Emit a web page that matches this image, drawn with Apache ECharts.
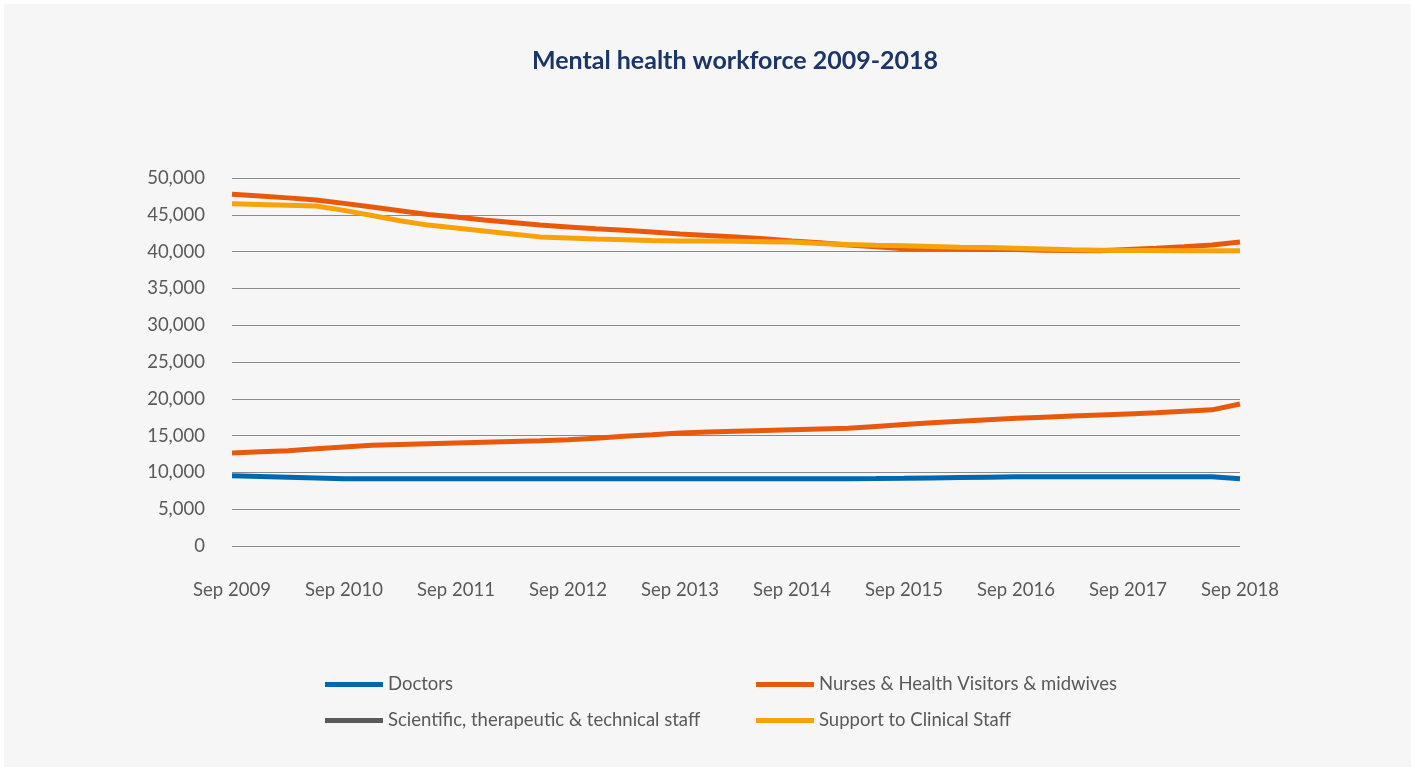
<!DOCTYPE html>
<html>
<head>
<meta charset="utf-8">
<script src="https://cdn.jsdelivr.net/npm/echarts@6/dist/echarts.min.js"></script>
<style>
  html, body { margin: 0; padding: 0; background: #ffffff; }
  #panel { position: absolute; left: 4px; top: 4px; width: 1407px; height: 763px; background: #f6f6f6; }
  #chart { position: absolute; left: 0; top: 0; width: 1415px; height: 771px; }
</style>
</head>
<body>
<div id="panel"></div>
<div id="chart"></div>
<script>
// Quarterly categories (labels shown every 4th: September of each year)
const quarters = [
  "Sep 2009","Dec 2009","Mar 2010","Jun 2010",
  "Sep 2010","Dec 2010","Mar 2011","Jun 2011",
  "Sep 2011","Dec 2011","Mar 2012","Jun 2012",
  "Sep 2012","Dec 2012","Mar 2013","Jun 2013",
  "Sep 2013","Dec 2013","Mar 2014","Jun 2014",
  "Sep 2014","Dec 2014","Mar 2015","Jun 2015",
  "Sep 2015","Dec 2015","Mar 2016","Jun 2016",
  "Sep 2016","Dec 2016","Mar 2017","Jun 2017",
  "Sep 2017","Dec 2017","Mar 2018","Jun 2018",
  "Sep 2018"
];

const seriesNames = [
  "Doctors",
  "Nurses & Health Visitors & midwives",
  "Scientific, therapeutic & technical staff",
  "Support to Clinical Staff"
];

const doctors = [
  9550, 9450, 9350, 9250,
  9150, 9150, 9150, 9150,
  9150, 9150, 9150, 9150,
  9150, 9150, 9150, 9150,
  9150, 9150, 9150, 9150,
  9150, 9150, 9150, 9170,
  9200, 9250, 9300, 9350,
  9400, 9400, 9400, 9400,
  9400, 9400, 9400, 9400,
  9150
];

const nurses = [
  47800, 47550, 47300, 47000,
  46550, 46050, 45550, 45050,
  44700, 44300, 43950, 43600,
  43350, 43100, 42900, 42650,
  42400, 42200, 42000, 41750,
  41450, 41200, 40900, 40650,
  40400, 40400, 40350, 40300,
  40300, 40200, 40150, 40100,
  40300, 40450, 40650, 40900,
  41300
];

const scientific = [
  12650, 12800, 12950, 13200,
  13450, 13700, 13800, 13900,
  14000, 14100, 14200, 14300,
  14450, 14650, 14900, 15100,
  15350, 15500, 15600, 15700,
  15800, 15900, 16000, 16250,
  16500, 16750, 16950, 17150,
  17350, 17500, 17650, 17800,
  17950, 18100, 18300, 18500,
  19300
];

const support = [
  46500, 46400, 46300, 46200,
  45600, 44900, 44200, 43600,
  43200, 42800, 42400, 42000,
  41850, 41700, 41600, 41500,
  41450, 41450, 41400, 41350,
  41300, 41100, 40950, 40850,
  40800, 40700, 40600, 40550,
  40450, 40350, 40250, 40200,
  40150, 40150, 40100, 40100,
  40100
];

const lineColors = ["#0068b1", "#e9590c", "#e9590c", "#f8a20a"];
const legendColors = ["#0068b1", "#e9590c", "#5a5a5a", "#f8a20a"];
const yTicks = { min: 0, max: 50000, interval: 5000 };

const chart = echarts.init(document.getElementById('chart'), null, { renderer: 'canvas' });

const fontFamily = 'Lato, "Noto Sans", sans-serif';
const valuesList = [doctors, nurses, scientific, support];

const legendPos = [
  { left: 325, top: 675 },
  { left: 756, top: 675 },
  { left: 325, top: 711 },
  { left: 756, top: 711 }
];

const option = {
  backgroundColor: 'transparent',
  animation: false,
  title: {
    text: 'Mental health workforce 2009-2018',
    left: 730,
    top: 43,
    textAlign: 'center',
    textStyle: {
      fontFamily: fontFamily,
      fontWeight: 'bold',
      fontSize: 25,
      color: '#1b3567'
    }
  },
  legend: seriesNames.map((n, i) => ({
    data: [{ name: n, itemStyle: { color: legendColors[i] } }],
    left: legendPos[i].left,
    top: legendPos[i].top,
    padding: 0,
    icon: 'rect',
    itemWidth: 58,
    itemHeight: 5,
    selectedMode: false,
    textStyle: {
      fontFamily: fontFamily,
      fontSize: 18.5,
      color: '#595959'
    }
  })),
  grid: {
    left: 232,
    right: 175,
    top: 178,
    bottom: 225,
    containLabel: false
  },
  xAxis: {
    type: 'category',
    data: quarters,
    boundaryGap: false,
    axisLine: { show: false },
    axisTick: { show: false },
    splitLine: { show: false },
    axisLabel: {
      interval: 3,
      margin: 35,
      fontFamily: fontFamily,
      fontSize: 18.5,
      color: '#595959'
    }
  },
  yAxis: {
    type: 'value',
    min: yTicks.min,
    max: yTicks.max,
    interval: yTicks.interval,
    axisLine: { show: false },
    axisTick: { show: false },
    splitLine: { show: true, lineStyle: { color: '#8a8a8a', width: 1 } },
    axisLabel: {
      margin: 27,
      fontFamily: fontFamily,
      fontSize: 18.5,
      color: '#595959',
      formatter: v => v.toLocaleString('en-US')
    }
  },
  series: seriesNames.map((n, i) => ({
    name: n,
    type: 'line',
    data: valuesList[i],
    showSymbol: false,
    symbol: 'none',
    smooth: false,
    color: lineColors[i],
    lineStyle: { width: 5, color: lineColors[i] },
    z: [2, 3, 3, 4][i]
  }))
};

chart.setOption(option);
</script>
</body>
</html>
